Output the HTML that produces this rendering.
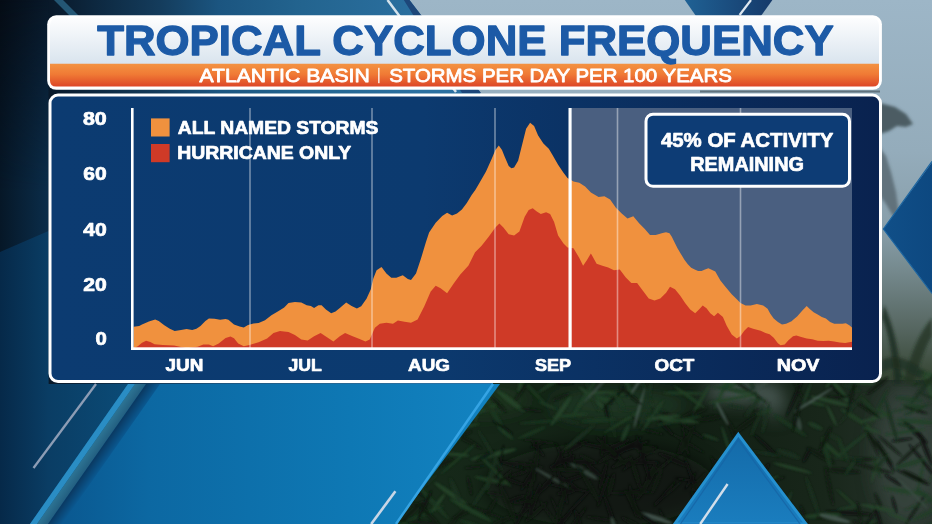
<!DOCTYPE html>
<html><head><meta charset="utf-8"><title>Tropical Cyclone Frequency</title>
<style>
html,body{margin:0;padding:0;width:932px;height:524px;overflow:hidden;background:#0b2238}
svg{display:block;position:absolute;left:0;top:0}
.b{font-family:"Liberation Sans",Arial,sans-serif;font-weight:bold}
.m{font-family:"Liberation Sans",Arial,sans-serif;font-weight:normal}
</style></head><body>
<svg width="932" height="524" viewBox="0 0 932 524">
<defs>
<linearGradient id="gBase" x1="0" y1="0" x2="420" y2="0" gradientUnits="userSpaceOnUse">
<stop offset="0" stop-color="#050c15"/><stop offset="0.12" stop-color="#09192a"/><stop offset="0.25" stop-color="#0e2b44"/><stop offset="0.38" stop-color="#143c5c"/><stop offset="0.52" stop-color="#1b5580"/><stop offset="0.72" stop-color="#23648f"/><stop offset="1" stop-color="#2b70a0"/>
</linearGradient>
<linearGradient id="gLeftH" x1="0" y1="0" x2="48" y2="0" gradientUnits="userSpaceOnUse">
<stop offset="0" stop-color="#061727"/><stop offset="1" stop-color="#0b2d4a"/>
</linearGradient>
<linearGradient id="gMaskV" x1="0" y1="0" x2="0" y2="240" gradientUnits="userSpaceOnUse">
<stop offset="0" stop-color="#000"/><stop offset="0.8" stop-color="#fff"/><stop offset="1" stop-color="#fff"/>
</linearGradient>
<mask id="mLeft" maskUnits="userSpaceOnUse" x="0" y="0" width="60" height="400"><rect x="0" y="0" width="60" height="400" fill="url(#gMaskV)"/></mask>
<linearGradient id="gLeftL" x1="0" y1="0" x2="134" y2="0" gradientUnits="userSpaceOnUse">
<stop offset="0" stop-color="#062949"/><stop offset="0.36" stop-color="#0a3d64"/><stop offset="1" stop-color="#0b4c78"/>
</linearGradient>
<linearGradient id="gSky" x1="0" y1="0" x2="0" y2="524" gradientUnits="userSpaceOnUse">
<stop offset="0" stop-color="#9db6c7"/><stop offset="0.29" stop-color="#94acbb"/><stop offset="0.44" stop-color="#889ea9"/><stop offset="0.52" stop-color="#74888c"/><stop offset="0.63" stop-color="#55655f"/><stop offset="0.73" stop-color="#33432f"/><stop offset="1" stop-color="#182619"/>
</linearGradient>
<linearGradient id="gFol" x1="390" y1="0" x2="932" y2="0" gradientUnits="userSpaceOnUse">
<stop offset="0" stop-color="#172a1a"/><stop offset="0.55" stop-color="#111e13"/><stop offset="0.8" stop-color="#18261a"/><stop offset="1" stop-color="#2a362f"/>
</linearGradient>
<linearGradient id="gTeal" x1="135" y1="384" x2="142.4" y2="389.2" gradientUnits="userSpaceOnUse">
<stop offset="0" stop-color="#2d7494"/><stop offset="1" stop-color="#235f80"/>
</linearGradient>
<linearGradient id="gShadow" x1="146" y1="384" x2="155.4" y2="390.6" gradientUnits="userSpaceOnUse">
<stop offset="0" stop-color="#0a3860"/><stop offset="1" stop-color="#0a5890"/>
</linearGradient>
<linearGradient id="gPanel" x1="60" y1="0" x2="480" y2="0" gradientUnits="userSpaceOnUse">
<stop offset="0" stop-color="#0a5890"/><stop offset="0.21" stop-color="#0c68a2"/><stop offset="0.69" stop-color="#0e78b4"/><stop offset="1" stop-color="#1282c0"/>
</linearGradient>
<linearGradient id="gBL" x1="0" y1="0" x2="130" y2="0" gradientUnits="userSpaceOnUse">
<stop offset="0" stop-color="#06233b"/><stop offset="1" stop-color="#0a3f66"/>
</linearGradient>
<linearGradient id="gTitle" x1="0" y1="15" x2="0" y2="64" gradientUnits="userSpaceOnUse">
<stop offset="0" stop-color="#ffffff"/><stop offset="1" stop-color="#d9e4ee"/>
</linearGradient>
<linearGradient id="gOrange" x1="0" y1="64" x2="0" y2="87" gradientUnits="userSpaceOnUse">
<stop offset="0" stop-color="#f39242"/><stop offset="0.45" stop-color="#f07a35"/><stop offset="1" stop-color="#dc4426"/>
</linearGradient>
<linearGradient id="gChart" x1="50" y1="0" x2="880" y2="0" gradientUnits="userSpaceOnUse">
<stop offset="0" stop-color="#0c3b71"/><stop offset="0.45" stop-color="#0c3a6f"/><stop offset="1" stop-color="#09224f"/>
</linearGradient>
<linearGradient id="gV" x1="685" y1="0" x2="772" y2="0" gradientUnits="userSpaceOnUse">
<stop offset="0" stop-color="#1f6194"/><stop offset="1" stop-color="#163a6a"/>
</linearGradient>
<linearGradient id="gTri" x1="0" y1="434" x2="0" y2="524" gradientUnits="userSpaceOnUse">
<stop offset="0" stop-color="#146aa8"/><stop offset="1" stop-color="#1a7dbe"/>
</linearGradient>
<linearGradient id="gDia" x1="883" y1="0" x2="932" y2="0" gradientUnits="userSpaceOnUse">
<stop offset="0" stop-color="#104f88"/><stop offset="1" stop-color="#0d4880"/>
</linearGradient>
<filter id="fBlur4" x="-50%" y="-50%" width="200%" height="200%"><feGaussianBlur stdDeviation="9"/></filter>
<filter id="fBlur2" x="-50%" y="-50%" width="200%" height="200%"><feGaussianBlur stdDeviation="1.6"/></filter>
<filter id="fBlur1" x="-10%" y="-10%" width="120%" height="120%"><feGaussianBlur stdDeviation="0.9"/></filter>
<clipPath id="cPhoto"><polygon points="409.5,0 932,0 932,524 396,524 493,384 520,300 480,92"/></clipPath>
</defs>

<!-- background base (graphic) -->
<rect x="0" y="0" width="932" height="524" fill="url(#gBase)"/>
<rect x="0" y="0" width="48.5" height="390" fill="url(#gLeftH)" mask="url(#mLeft)"/>
<polygon points="0,252 48.5,231 48.5,384 134,384 36,524 0,524" fill="url(#gLeftL)"/>
<polygon points="54,0 63,0 80,17 71,17" fill="#2f6f92" opacity="0.7"/>
<!-- photo region -->
<g clip-path="url(#cPhoto)">
<rect x="380" y="0" width="560" height="524" fill="url(#gSky)"/>
<rect x="380" y="380" width="560" height="150" fill="url(#gFol)"/>
<g filter="url(#fBlur4)">
<ellipse cx="740" cy="392" rx="38" ry="9" fill="#7a8a8c" opacity="0.65"/>
<ellipse cx="775" cy="402" rx="9" ry="16" fill="#6a7a7a" opacity="0.6"/>
<ellipse cx="905" cy="455" rx="32" ry="70" fill="#3a4640" opacity="0.75"/>
<ellipse cx="600" cy="485" rx="115" ry="42" fill="#0b140c" opacity="0.6"/>
<ellipse cx="470" cy="400" rx="60" ry="14" fill="#24402a" opacity="0.6"/>
<ellipse cx="620" cy="405" rx="70" ry="16" fill="#27452c" opacity="0.6"/>
</g>
<g filter="url(#fBlur1)">
<ellipse cx="638.8" cy="462.2" rx="22.8" ry="1.9" transform="rotate(1 638.8 462.2)" fill="#0b140c" opacity="0.8"/>
<ellipse cx="651.7" cy="470.5" rx="11.0" ry="1.8" transform="rotate(-57 651.7 470.5)" fill="#0c150d" opacity="0.8"/>
<ellipse cx="920.6" cy="476.7" rx="17.8" ry="1.4" transform="rotate(-78 920.6 476.7)" fill="#234226" opacity="0.8"/>
<ellipse cx="873.8" cy="468.3" rx="20.4" ry="1.7" transform="rotate(15 873.8 468.3)" fill="#101c12" opacity="0.8"/>
<ellipse cx="551.8" cy="376.7" rx="9.4" ry="2.1" transform="rotate(-15 551.8 376.7)" fill="#0a130c" opacity="0.8"/>
<ellipse cx="806.9" cy="455.0" rx="8.5" ry="2.0" transform="rotate(-63 806.9 455.0)" fill="#0a130c" opacity="0.8"/>
<ellipse cx="426.8" cy="378.6" rx="19.0" ry="1.5" transform="rotate(68 426.8 378.6)" fill="#28482c" opacity="0.8"/>
<ellipse cx="620.9" cy="463.2" rx="11.2" ry="2.1" transform="rotate(154 620.9 463.2)" fill="#0c150d" opacity="0.8"/>
<ellipse cx="806.9" cy="394.2" rx="11.9" ry="1.3" transform="rotate(110 806.9 394.2)" fill="#1f3d25" opacity="0.8"/>
<ellipse cx="493.6" cy="454.4" rx="23.8" ry="2.3" transform="rotate(167 493.6 454.4)" fill="#28482c" opacity="0.8"/>
<ellipse cx="934.5" cy="376.1" rx="21.8" ry="2.6" transform="rotate(15 934.5 376.1)" fill="#28482c" opacity="0.8"/>
<ellipse cx="937.7" cy="468.7" rx="17.2" ry="1.3" transform="rotate(123 937.7 468.7)" fill="#1f3d25" opacity="0.8"/>
<ellipse cx="570.9" cy="421.6" rx="9.2" ry="1.3" transform="rotate(13 570.9 421.6)" fill="#1a311e" opacity="0.8"/>
<ellipse cx="594.4" cy="445.8" rx="23.3" ry="1.9" transform="rotate(192 594.4 445.8)" fill="#0a120b" opacity="0.8"/>
<ellipse cx="560.9" cy="411.2" rx="17.8" ry="2.2" transform="rotate(-55 560.9 411.2)" fill="#28482c" opacity="0.8"/>
<ellipse cx="875.2" cy="468.9" rx="14.7" ry="1.3" transform="rotate(106 875.2 468.9)" fill="#28482c" opacity="0.8"/>
<ellipse cx="531.3" cy="502.9" rx="17.5" ry="1.6" transform="rotate(-52 531.3 502.9)" fill="#0c150d" opacity="0.8"/>
<ellipse cx="697.7" cy="507.3" rx="17.8" ry="1.6" transform="rotate(67 697.7 507.3)" fill="#0a120b" opacity="0.8"/>
<ellipse cx="538.1" cy="444.6" rx="9.0" ry="1.4" transform="rotate(-21 538.1 444.6)" fill="#0a120b" opacity="0.8"/>
<ellipse cx="880.0" cy="527.0" rx="18.5" ry="2.2" transform="rotate(14 880.0 527.0)" fill="#0d180f" opacity="0.8"/>
<ellipse cx="651.1" cy="431.1" rx="13.0" ry="1.2" transform="rotate(16 651.1 431.1)" fill="#101c12" opacity="0.8"/>
<ellipse cx="561.1" cy="397.0" rx="9.2" ry="1.8" transform="rotate(-21 561.1 397.0)" fill="#101c12" opacity="0.8"/>
<ellipse cx="795.4" cy="395.9" rx="23.4" ry="1.7" transform="rotate(114 795.4 395.9)" fill="#0a130c" opacity="0.8"/>
<ellipse cx="909.3" cy="380.7" rx="16.0" ry="1.2" transform="rotate(206 909.3 380.7)" fill="#1f3d25" opacity="0.8"/>
<ellipse cx="429.7" cy="390.0" rx="9.8" ry="1.6" transform="rotate(167 429.7 390.0)" fill="#1f3d25" opacity="0.8"/>
<ellipse cx="641.8" cy="447.2" rx="16.7" ry="1.9" transform="rotate(182 641.8 447.2)" fill="#0c150d" opacity="0.8"/>
<ellipse cx="402.3" cy="523.4" rx="9.8" ry="2.3" transform="rotate(206 402.3 523.4)" fill="#1d3821" opacity="0.8"/>
<ellipse cx="592.4" cy="398.1" rx="17.8" ry="1.9" transform="rotate(221 592.4 398.1)" fill="#28482c" opacity="0.8"/>
<ellipse cx="664.1" cy="413.2" rx="14.5" ry="1.6" transform="rotate(21 664.1 413.2)" fill="#0a130c" opacity="0.8"/>
<ellipse cx="510.8" cy="517.8" rx="11.4" ry="1.4" transform="rotate(-24 510.8 517.8)" fill="#0c150d" opacity="0.8"/>
<ellipse cx="842.0" cy="393.4" rx="15.5" ry="2.5" transform="rotate(233 842.0 393.4)" fill="#28482c" opacity="0.8"/>
<ellipse cx="759.7" cy="486.3" rx="21.5" ry="2.1" transform="rotate(-29 759.7 486.3)" fill="#1f3d25" opacity="0.8"/>
<ellipse cx="412.8" cy="485.1" rx="17.1" ry="1.6" transform="rotate(47 412.8 485.1)" fill="#0a130c" opacity="0.8"/>
<ellipse cx="640.2" cy="379.8" rx="21.3" ry="1.5" transform="rotate(-57 640.2 379.8)" fill="#4a5c55" opacity="0.8"/>
<ellipse cx="635.6" cy="473.0" rx="18.5" ry="2.3" transform="rotate(73 635.6 473.0)" fill="#0c150d" opacity="0.8"/>
<ellipse cx="530.8" cy="486.0" rx="20.1" ry="1.9" transform="rotate(-74 530.8 486.0)" fill="#0c150d" opacity="0.8"/>
<ellipse cx="686.8" cy="521.8" rx="16.0" ry="2.6" transform="rotate(-55 686.8 521.8)" fill="#0b140c" opacity="0.8"/>
<ellipse cx="603.4" cy="445.4" rx="11.2" ry="2.4" transform="rotate(101 603.4 445.4)" fill="#0b140c" opacity="0.8"/>
<ellipse cx="930.3" cy="391.2" rx="21.9" ry="2.3" transform="rotate(68 930.3 391.2)" fill="#28482c" opacity="0.8"/>
<ellipse cx="929.3" cy="526.5" rx="16.6" ry="2.3" transform="rotate(-29 929.3 526.5)" fill="#1d3821" opacity="0.8"/>
<ellipse cx="410.4" cy="428.7" rx="14.7" ry="1.6" transform="rotate(67 410.4 428.7)" fill="#0d180f" opacity="0.8"/>
<ellipse cx="625.9" cy="381.4" rx="16.5" ry="2.2" transform="rotate(247 625.9 381.4)" fill="#1f3d25" opacity="0.8"/>
<ellipse cx="885.3" cy="455.8" rx="18.8" ry="1.8" transform="rotate(61 885.3 455.8)" fill="#0a130c" opacity="0.8"/>
<ellipse cx="679.7" cy="420.7" rx="19.7" ry="2.1" transform="rotate(184 679.7 420.7)" fill="#28482c" opacity="0.8"/>
<ellipse cx="915.1" cy="510.0" rx="17.8" ry="1.6" transform="rotate(123 915.1 510.0)" fill="#0d180f" opacity="0.8"/>
<ellipse cx="616.1" cy="393.6" rx="8.1" ry="1.7" transform="rotate(6 616.1 393.6)" fill="#28482c" opacity="0.8"/>
<ellipse cx="689.2" cy="528.4" rx="10.0" ry="1.3" transform="rotate(127 689.2 528.4)" fill="#0c150d" opacity="0.8"/>
<ellipse cx="538.1" cy="448.9" rx="10.0" ry="1.8" transform="rotate(231 538.1 448.9)" fill="#0a120b" opacity="0.8"/>
<ellipse cx="495.3" cy="471.2" rx="22.8" ry="1.4" transform="rotate(45 495.3 471.2)" fill="#234226" opacity="0.8"/>
<ellipse cx="515.0" cy="481.8" rx="13.2" ry="1.7" transform="rotate(19 515.0 481.8)" fill="#0b140c" opacity="0.8"/>
<ellipse cx="457.5" cy="454.6" rx="12.0" ry="1.5" transform="rotate(185 457.5 454.6)" fill="#28482c" opacity="0.8"/>
<ellipse cx="843.8" cy="470.8" rx="16.6" ry="2.4" transform="rotate(5 843.8 470.8)" fill="#101c12" opacity="0.8"/>
<ellipse cx="726.4" cy="507.9" rx="11.7" ry="2.2" transform="rotate(50 726.4 507.9)" fill="#1a311e" opacity="0.8"/>
<ellipse cx="879.9" cy="406.0" rx="20.5" ry="1.5" transform="rotate(-65 879.9 406.0)" fill="#1d3821" opacity="0.8"/>
<ellipse cx="532.7" cy="390.9" rx="21.3" ry="1.8" transform="rotate(46 532.7 390.9)" fill="#1d3821" opacity="0.8"/>
<ellipse cx="442.8" cy="463.8" rx="13.7" ry="2.3" transform="rotate(158 442.8 463.8)" fill="#101c12" opacity="0.8"/>
<ellipse cx="848.1" cy="499.6" rx="15.7" ry="1.2" transform="rotate(222 848.1 499.6)" fill="#234226" opacity="0.8"/>
<ellipse cx="453.2" cy="402.6" rx="10.5" ry="1.6" transform="rotate(28 453.2 402.6)" fill="#28482c" opacity="0.8"/>
<ellipse cx="432.7" cy="390.9" rx="14.3" ry="1.8" transform="rotate(-23 432.7 390.9)" fill="#1d3821" opacity="0.8"/>
<ellipse cx="738.7" cy="382.3" rx="11.2" ry="1.8" transform="rotate(158 738.7 382.3)" fill="#234226" opacity="0.8"/>
<ellipse cx="722.7" cy="390.6" rx="20.7" ry="1.7" transform="rotate(114 722.7 390.6)" fill="#234226" opacity="0.8"/>
<ellipse cx="667.4" cy="527.3" rx="20.9" ry="1.6" transform="rotate(66 667.4 527.3)" fill="#0a130c" opacity="0.8"/>
<ellipse cx="463.3" cy="426.8" rx="16.6" ry="1.7" transform="rotate(-11 463.3 426.8)" fill="#234226" opacity="0.8"/>
<ellipse cx="428.8" cy="428.6" rx="15.5" ry="1.2" transform="rotate(-23 428.8 428.6)" fill="#1a311e" opacity="0.8"/>
<ellipse cx="575.8" cy="477.6" rx="17.1" ry="1.9" transform="rotate(162 575.8 477.6)" fill="#0b140c" opacity="0.8"/>
<ellipse cx="455.8" cy="436.9" rx="17.2" ry="1.4" transform="rotate(-63 455.8 436.9)" fill="#28482c" opacity="0.8"/>
<ellipse cx="667.6" cy="493.2" rx="18.4" ry="1.2" transform="rotate(141 667.6 493.2)" fill="#101c12" opacity="0.8"/>
<ellipse cx="687.3" cy="440.0" rx="16.3" ry="2.4" transform="rotate(116 687.3 440.0)" fill="#0d180f" opacity="0.8"/>
<ellipse cx="692.2" cy="478.9" rx="23.3" ry="1.7" transform="rotate(250 692.2 478.9)" fill="#0a120b" opacity="0.8"/>
<ellipse cx="860.6" cy="459.5" rx="17.5" ry="1.8" transform="rotate(179 860.6 459.5)" fill="#101c12" opacity="0.8"/>
<ellipse cx="561.8" cy="457.7" rx="15.7" ry="1.6" transform="rotate(249 561.8 457.7)" fill="#0a120b" opacity="0.8"/>
<ellipse cx="712.2" cy="473.5" rx="14.5" ry="2.2" transform="rotate(108 712.2 473.5)" fill="#0a120b" opacity="0.8"/>
<ellipse cx="710.0" cy="487.4" rx="13.1" ry="2.3" transform="rotate(136 710.0 487.4)" fill="#0a120b" opacity="0.8"/>
<ellipse cx="415.0" cy="391.2" rx="21.0" ry="2.5" transform="rotate(-57 415.0 391.2)" fill="#1d3821" opacity="0.8"/>
<ellipse cx="417.7" cy="440.2" rx="9.9" ry="2.4" transform="rotate(-23 417.7 440.2)" fill="#28482c" opacity="0.8"/>
<ellipse cx="466.9" cy="440.2" rx="17.6" ry="2.1" transform="rotate(209 466.9 440.2)" fill="#101c12" opacity="0.8"/>
<ellipse cx="838.3" cy="397.1" rx="12.6" ry="1.4" transform="rotate(177 838.3 397.1)" fill="#101c12" opacity="0.8"/>
<ellipse cx="855.6" cy="418.3" rx="17.8" ry="2.2" transform="rotate(32 855.6 418.3)" fill="#234226" opacity="0.8"/>
<ellipse cx="494.4" cy="414.3" rx="23.7" ry="2.5" transform="rotate(61 494.4 414.3)" fill="#1d3821" opacity="0.8"/>
<ellipse cx="539.0" cy="441.5" rx="18.0" ry="1.3" transform="rotate(7 539.0 441.5)" fill="#101c12" opacity="0.8"/>
<ellipse cx="478.5" cy="412.2" rx="23.7" ry="1.9" transform="rotate(157 478.5 412.2)" fill="#234226" opacity="0.8"/>
<ellipse cx="851.2" cy="387.4" rx="9.9" ry="2.3" transform="rotate(20 851.2 387.4)" fill="#1a311e" opacity="0.8"/>
<ellipse cx="604.6" cy="399.2" rx="10.5" ry="2.4" transform="rotate(195 604.6 399.2)" fill="#234226" opacity="0.8"/>
<ellipse cx="625.2" cy="432.9" rx="9.6" ry="2.4" transform="rotate(-67 625.2 432.9)" fill="#1f3d25" opacity="0.8"/>
<ellipse cx="656.7" cy="481.5" rx="12.8" ry="2.3" transform="rotate(-68 656.7 481.5)" fill="#101c12" opacity="0.8"/>
<ellipse cx="434.9" cy="422.8" rx="19.6" ry="2.2" transform="rotate(-35 434.9 422.8)" fill="#1a311e" opacity="0.8"/>
<ellipse cx="591.5" cy="394.1" rx="19.3" ry="2.0" transform="rotate(247 591.5 394.1)" fill="#1a311e" opacity="0.8"/>
<ellipse cx="642.1" cy="410.1" rx="23.5" ry="2.2" transform="rotate(3 642.1 410.1)" fill="#1a311e" opacity="0.8"/>
<ellipse cx="403.3" cy="480.3" rx="17.4" ry="2.3" transform="rotate(218 403.3 480.3)" fill="#101c12" opacity="0.8"/>
<ellipse cx="475.1" cy="467.0" rx="10.8" ry="1.3" transform="rotate(173 475.1 467.0)" fill="#0d180f" opacity="0.8"/>
<ellipse cx="673.6" cy="459.8" rx="17.1" ry="2.6" transform="rotate(204 673.6 459.8)" fill="#0b140c" opacity="0.8"/>
<ellipse cx="558.0" cy="460.0" rx="13.4" ry="1.6" transform="rotate(117 558.0 460.0)" fill="#0b140c" opacity="0.8"/>
<ellipse cx="749.4" cy="391.0" rx="21.1" ry="1.8" transform="rotate(214 749.4 391.0)" fill="#101c12" opacity="0.8"/>
<ellipse cx="576.0" cy="446.7" rx="13.6" ry="2.3" transform="rotate(-27 576.0 446.7)" fill="#0b140c" opacity="0.8"/>
<ellipse cx="832.6" cy="387.2" rx="17.9" ry="1.3" transform="rotate(221 832.6 387.2)" fill="#0a130c" opacity="0.8"/>
<ellipse cx="848.6" cy="512.9" rx="23.3" ry="2.1" transform="rotate(4 848.6 512.9)" fill="#0a130c" opacity="0.8"/>
<ellipse cx="898.0" cy="517.0" rx="11.9" ry="1.4" transform="rotate(22 898.0 517.0)" fill="#28482c" opacity="0.8"/>
<ellipse cx="623.7" cy="421.0" rx="23.5" ry="1.3" transform="rotate(-31 623.7 421.0)" fill="#234226" opacity="0.8"/>
<ellipse cx="816.8" cy="403.6" rx="9.0" ry="1.8" transform="rotate(13 816.8 403.6)" fill="#234226" opacity="0.8"/>
<ellipse cx="491.5" cy="409.5" rx="11.8" ry="2.2" transform="rotate(15 491.5 409.5)" fill="#1a311e" opacity="0.8"/>
<ellipse cx="611.4" cy="516.2" rx="23.0" ry="2.1" transform="rotate(251 611.4 516.2)" fill="#0a130c" opacity="0.8"/>
<ellipse cx="878.1" cy="516.8" rx="13.5" ry="2.0" transform="rotate(253 878.1 516.8)" fill="#0a130c" opacity="0.8"/>
<ellipse cx="417.3" cy="521.9" rx="20.8" ry="1.7" transform="rotate(184 417.3 521.9)" fill="#0d180f" opacity="0.8"/>
<ellipse cx="751.7" cy="412.6" rx="8.2" ry="1.9" transform="rotate(-21 751.7 412.6)" fill="#101c12" opacity="0.8"/>
<ellipse cx="871.2" cy="440.0" rx="20.4" ry="1.4" transform="rotate(65 871.2 440.0)" fill="#101c12" opacity="0.8"/>
<ellipse cx="536.6" cy="458.3" rx="10.4" ry="2.3" transform="rotate(-80 536.6 458.3)" fill="#0d180f" opacity="0.8"/>
<ellipse cx="583.5" cy="470.7" rx="16.4" ry="2.4" transform="rotate(31 583.5 470.7)" fill="#3c4e45" opacity="0.8"/>
<ellipse cx="400.5" cy="404.9" rx="11.1" ry="2.2" transform="rotate(225 400.5 404.9)" fill="#1f3d25" opacity="0.8"/>
<ellipse cx="617.2" cy="452.1" rx="23.1" ry="2.5" transform="rotate(151 617.2 452.1)" fill="#0c150d" opacity="0.8"/>
<ellipse cx="938.5" cy="478.7" rx="9.1" ry="1.3" transform="rotate(122 938.5 478.7)" fill="#101c12" opacity="0.8"/>
<ellipse cx="921.8" cy="503.8" rx="18.5" ry="1.2" transform="rotate(160 921.8 503.8)" fill="#1f3d25" opacity="0.8"/>
<ellipse cx="452.3" cy="494.9" rx="21.7" ry="2.4" transform="rotate(35 452.3 494.9)" fill="#28482c" opacity="0.8"/>
<ellipse cx="905.6" cy="491.5" rx="23.3" ry="2.3" transform="rotate(9 905.6 491.5)" fill="#234226" opacity="0.8"/>
<ellipse cx="597.1" cy="392.9" rx="13.0" ry="1.6" transform="rotate(175 597.1 392.9)" fill="#28482c" opacity="0.8"/>
<ellipse cx="440.8" cy="397.7" rx="9.5" ry="2.1" transform="rotate(33 440.8 397.7)" fill="#1d3821" opacity="0.8"/>
<ellipse cx="850.3" cy="467.3" rx="9.4" ry="1.5" transform="rotate(-55 850.3 467.3)" fill="#1d3821" opacity="0.8"/>
<ellipse cx="577.9" cy="502.8" rx="22.8" ry="1.4" transform="rotate(-47 577.9 502.8)" fill="#0a130c" opacity="0.8"/>
<ellipse cx="655.5" cy="517.9" rx="18.0" ry="2.2" transform="rotate(198 655.5 517.9)" fill="#4a5c55" opacity="0.8"/>
<ellipse cx="753.1" cy="469.7" rx="8.3" ry="1.7" transform="rotate(155 753.1 469.7)" fill="#28482c" opacity="0.8"/>
<ellipse cx="502.7" cy="427.2" rx="12.7" ry="1.3" transform="rotate(214 502.7 427.2)" fill="#0a130c" opacity="0.8"/>
<ellipse cx="691.5" cy="430.3" rx="16.0" ry="1.4" transform="rotate(34 691.5 430.3)" fill="#0d180f" opacity="0.8"/>
<ellipse cx="734.9" cy="406.5" rx="9.3" ry="1.5" transform="rotate(192 734.9 406.5)" fill="#1a311e" opacity="0.8"/>
<ellipse cx="536.4" cy="512.0" rx="15.2" ry="2.2" transform="rotate(-42 536.4 512.0)" fill="#0c150d" opacity="0.8"/>
<ellipse cx="482.7" cy="490.8" rx="22.4" ry="1.7" transform="rotate(-57 482.7 490.8)" fill="#1a311e" opacity="0.8"/>
<ellipse cx="522.5" cy="464.3" rx="21.3" ry="1.5" transform="rotate(8 522.5 464.3)" fill="#0c150d" opacity="0.8"/>
<ellipse cx="489.0" cy="528.0" rx="23.0" ry="2.1" transform="rotate(149 489.0 528.0)" fill="#101c12" opacity="0.8"/>
<ellipse cx="832.1" cy="378.5" rx="11.2" ry="1.9" transform="rotate(123 832.1 378.5)" fill="#28482c" opacity="0.8"/>
<ellipse cx="485.5" cy="456.0" rx="12.2" ry="2.0" transform="rotate(-27 485.5 456.0)" fill="#0d180f" opacity="0.8"/>
<ellipse cx="611.7" cy="452.6" rx="9.6" ry="1.7" transform="rotate(243 611.7 452.6)" fill="#0a130c" opacity="0.8"/>
<ellipse cx="879.0" cy="447.4" rx="22.5" ry="2.2" transform="rotate(52 879.0 447.4)" fill="#101c12" opacity="0.8"/>
<ellipse cx="571.7" cy="456.2" rx="14.7" ry="1.2" transform="rotate(245 571.7 456.2)" fill="#0c150d" opacity="0.8"/>
<ellipse cx="792.6" cy="468.0" rx="20.0" ry="1.6" transform="rotate(15 792.6 468.0)" fill="#28482c" opacity="0.8"/>
<ellipse cx="523.3" cy="510.4" rx="23.6" ry="1.9" transform="rotate(-63 523.3 510.4)" fill="#0b140c" opacity="0.8"/>
<ellipse cx="607.5" cy="412.3" rx="9.1" ry="2.5" transform="rotate(255 607.5 412.3)" fill="#0a130c" opacity="0.8"/>
<ellipse cx="700.2" cy="401.3" rx="18.4" ry="1.8" transform="rotate(-60 700.2 401.3)" fill="#234226" opacity="0.8"/>
<ellipse cx="458.1" cy="458.8" rx="23.2" ry="1.2" transform="rotate(139 458.1 458.8)" fill="#234226" opacity="0.8"/>
<ellipse cx="424.4" cy="513.8" rx="21.0" ry="1.8" transform="rotate(-23 424.4 513.8)" fill="#1d3821" opacity="0.8"/>
<ellipse cx="640.2" cy="424.3" rx="13.2" ry="1.4" transform="rotate(224 640.2 424.3)" fill="#0d180f" opacity="0.8"/>
<ellipse cx="552.4" cy="518.1" rx="22.3" ry="1.5" transform="rotate(234 552.4 518.1)" fill="#0d180f" opacity="0.8"/>
<ellipse cx="484.5" cy="511.5" rx="23.9" ry="1.5" transform="rotate(21 484.5 511.5)" fill="#0d180f" opacity="0.8"/>
<ellipse cx="747.6" cy="423.1" rx="21.1" ry="2.5" transform="rotate(144 747.6 423.1)" fill="#0d180f" opacity="0.8"/>
<ellipse cx="574.2" cy="523.4" rx="20.5" ry="1.8" transform="rotate(127 574.2 523.4)" fill="#0b140c" opacity="0.8"/>
<ellipse cx="498.1" cy="403.9" rx="11.8" ry="2.1" transform="rotate(226 498.1 403.9)" fill="#101c12" opacity="0.8"/>
<ellipse cx="876.4" cy="466.8" rx="11.7" ry="1.6" transform="rotate(68 876.4 466.8)" fill="#1d3821" opacity="0.8"/>
<ellipse cx="644.5" cy="387.7" rx="22.7" ry="1.3" transform="rotate(65 644.5 387.7)" fill="#1a311e" opacity="0.8"/>
<ellipse cx="685.5" cy="441.2" rx="17.1" ry="1.4" transform="rotate(78 685.5 441.2)" fill="#0c150d" opacity="0.8"/>
<ellipse cx="793.8" cy="380.4" rx="20.6" ry="1.4" transform="rotate(244 793.8 380.4)" fill="#101c12" opacity="0.8"/>
<ellipse cx="601.6" cy="519.1" rx="16.0" ry="1.5" transform="rotate(189 601.6 519.1)" fill="#0c150d" opacity="0.8"/>
<ellipse cx="820.6" cy="455.6" rx="16.1" ry="2.4" transform="rotate(29 820.6 455.6)" fill="#0d180f" opacity="0.8"/>
<ellipse cx="451.7" cy="443.1" rx="18.7" ry="2.0" transform="rotate(-39 451.7 443.1)" fill="#1f3d25" opacity="0.8"/>
<ellipse cx="511.7" cy="465.3" rx="16.0" ry="1.2" transform="rotate(15 511.7 465.3)" fill="#0a120b" opacity="0.8"/>
<ellipse cx="568.8" cy="469.7" rx="17.7" ry="2.3" transform="rotate(181 568.8 469.7)" fill="#0d180f" opacity="0.8"/>
<ellipse cx="429.9" cy="515.7" rx="17.1" ry="2.0" transform="rotate(47 429.9 515.7)" fill="#0d180f" opacity="0.8"/>
<ellipse cx="561.1" cy="382.5" rx="13.0" ry="2.1" transform="rotate(184 561.1 382.5)" fill="#0a130c" opacity="0.8"/>
<ellipse cx="438.7" cy="502.4" rx="10.7" ry="1.6" transform="rotate(126 438.7 502.4)" fill="#28482c" opacity="0.8"/>
<ellipse cx="646.8" cy="483.6" rx="19.3" ry="2.5" transform="rotate(-59 646.8 483.6)" fill="#0c150d" opacity="0.8"/>
<ellipse cx="676.9" cy="527.8" rx="8.1" ry="1.8" transform="rotate(4 676.9 527.8)" fill="#0c150d" opacity="0.8"/>
<ellipse cx="649.5" cy="520.1" rx="23.5" ry="2.2" transform="rotate(35 649.5 520.1)" fill="#0a120b" opacity="0.8"/>
<ellipse cx="693.5" cy="413.2" rx="15.4" ry="2.5" transform="rotate(158 693.5 413.2)" fill="#101c12" opacity="0.8"/>
<ellipse cx="510.1" cy="400.7" rx="17.4" ry="2.6" transform="rotate(38 510.1 400.7)" fill="#28482c" opacity="0.8"/>
<ellipse cx="904.5" cy="408.9" rx="14.1" ry="1.3" transform="rotate(-13 904.5 408.9)" fill="#1f3d25" opacity="0.8"/>
<ellipse cx="832.3" cy="449.9" rx="14.4" ry="2.0" transform="rotate(222 832.3 449.9)" fill="#234226" opacity="0.8"/>
<ellipse cx="864.5" cy="407.5" rx="14.1" ry="1.3" transform="rotate(211 864.5 407.5)" fill="#101c12" opacity="0.8"/>
<ellipse cx="400.2" cy="404.0" rx="12.2" ry="1.8" transform="rotate(68 400.2 404.0)" fill="#1a311e" opacity="0.8"/>
<ellipse cx="421.5" cy="488.1" rx="20.4" ry="1.4" transform="rotate(-41 421.5 488.1)" fill="#1a311e" opacity="0.8"/>
<ellipse cx="851.4" cy="445.3" rx="21.7" ry="1.7" transform="rotate(-39 851.4 445.3)" fill="#1f3d25" opacity="0.8"/>
<ellipse cx="521.1" cy="382.3" rx="10.4" ry="2.0" transform="rotate(105 521.1 382.3)" fill="#28482c" opacity="0.8"/>
<ellipse cx="689.2" cy="396.9" rx="19.3" ry="1.6" transform="rotate(216 689.2 396.9)" fill="#234226" opacity="0.8"/>
<ellipse cx="849.0" cy="458.4" rx="15.2" ry="1.4" transform="rotate(183 849.0 458.4)" fill="#1a311e" opacity="0.8"/>
<ellipse cx="593.8" cy="470.1" rx="10.2" ry="2.4" transform="rotate(220 593.8 470.1)" fill="#0b140c" opacity="0.8"/>
<ellipse cx="554.0" cy="479.3" rx="22.7" ry="1.5" transform="rotate(30 554.0 479.3)" fill="#3c4e45" opacity="0.8"/>
<ellipse cx="519.0" cy="473.4" rx="9.4" ry="1.8" transform="rotate(-17 519.0 473.4)" fill="#0c150d" opacity="0.8"/>
<ellipse cx="546.5" cy="484.3" rx="11.5" ry="2.5" transform="rotate(-48 546.5 484.3)" fill="#0b140c" opacity="0.8"/>
<ellipse cx="521.9" cy="390.3" rx="13.5" ry="1.8" transform="rotate(124 521.9 390.3)" fill="#101c12" opacity="0.8"/>
<ellipse cx="559.7" cy="516.8" rx="22.4" ry="1.4" transform="rotate(246 559.7 516.8)" fill="#0c150d" opacity="0.8"/>
<ellipse cx="662.6" cy="466.2" rx="15.5" ry="1.7" transform="rotate(-39 662.6 466.2)" fill="#0c150d" opacity="0.8"/>
<ellipse cx="880.5" cy="463.1" rx="12.2" ry="2.1" transform="rotate(130 880.5 463.1)" fill="#1a311e" opacity="0.8"/>
<ellipse cx="915.1" cy="431.8" rx="17.2" ry="2.5" transform="rotate(43 915.1 431.8)" fill="#0a130c" opacity="0.8"/>
<ellipse cx="727.0" cy="385.8" rx="9.1" ry="1.8" transform="rotate(172 727.0 385.8)" fill="#234226" opacity="0.8"/>
<ellipse cx="765.9" cy="418.0" rx="15.9" ry="1.9" transform="rotate(-77 765.9 418.0)" fill="#1a311e" opacity="0.8"/>
<ellipse cx="764.1" cy="412.1" rx="8.0" ry="2.0" transform="rotate(-17 764.1 412.1)" fill="#1f3d25" opacity="0.8"/>
<ellipse cx="433.5" cy="502.8" rx="22.1" ry="2.2" transform="rotate(227 433.5 502.8)" fill="#1d3821" opacity="0.8"/>
<ellipse cx="562.3" cy="486.3" rx="19.1" ry="2.2" transform="rotate(74 562.3 486.3)" fill="#0b140c" opacity="0.8"/>
<ellipse cx="769.1" cy="500.0" rx="12.7" ry="1.8" transform="rotate(159 769.1 500.0)" fill="#234226" opacity="0.8"/>
<ellipse cx="589.2" cy="484.8" rx="22.7" ry="2.2" transform="rotate(60 589.2 484.8)" fill="#101c12" opacity="0.8"/>
<ellipse cx="560.6" cy="506.7" rx="16.2" ry="2.2" transform="rotate(106 560.6 506.7)" fill="#0d180f" opacity="0.8"/>
<ellipse cx="579.6" cy="437.2" rx="19.8" ry="2.2" transform="rotate(140 579.6 437.2)" fill="#1a311e" opacity="0.8"/>
<ellipse cx="491.0" cy="507.8" rx="11.3" ry="2.0" transform="rotate(121 491.0 507.8)" fill="#0d180f" opacity="0.8"/>
<ellipse cx="732.6" cy="504.0" rx="20.8" ry="1.4" transform="rotate(160 732.6 504.0)" fill="#234226" opacity="0.8"/>
<ellipse cx="925.6" cy="448.7" rx="19.1" ry="2.3" transform="rotate(248 925.6 448.7)" fill="#0a130c" opacity="0.8"/>
<ellipse cx="528.6" cy="478.5" rx="14.2" ry="2.2" transform="rotate(-58 528.6 478.5)" fill="#0a120b" opacity="0.8"/>
<ellipse cx="868.9" cy="405.8" rx="13.7" ry="2.0" transform="rotate(228 868.9 405.8)" fill="#1d3821" opacity="0.8"/>
<ellipse cx="848.0" cy="507.8" rx="10.7" ry="1.3" transform="rotate(170 848.0 507.8)" fill="#1f3d25" opacity="0.8"/>
<ellipse cx="614.5" cy="397.9" rx="17.2" ry="2.1" transform="rotate(135 614.5 397.9)" fill="#0d180f" opacity="0.8"/>
<ellipse cx="633.2" cy="504.4" rx="16.9" ry="2.5" transform="rotate(241 633.2 504.4)" fill="#0c150d" opacity="0.8"/>
<ellipse cx="876.4" cy="417.6" rx="17.1" ry="1.6" transform="rotate(164 876.4 417.6)" fill="#28482c" opacity="0.8"/>
<ellipse cx="500.6" cy="460.9" rx="16.9" ry="1.4" transform="rotate(101 500.6 460.9)" fill="#0a120b" opacity="0.8"/>
<ellipse cx="490.4" cy="450.4" rx="24.0" ry="1.5" transform="rotate(239 490.4 450.4)" fill="#1a311e" opacity="0.8"/>
<ellipse cx="833.9" cy="437.0" rx="8.9" ry="2.0" transform="rotate(205 833.9 437.0)" fill="#1a311e" opacity="0.8"/>
<ellipse cx="865.5" cy="529.1" rx="15.1" ry="2.4" transform="rotate(36 865.5 529.1)" fill="#0d180f" opacity="0.8"/>
<ellipse cx="686.5" cy="479.9" rx="12.3" ry="1.2" transform="rotate(9 686.5 479.9)" fill="#0a120b" opacity="0.8"/>
<ellipse cx="877.6" cy="385.8" rx="13.8" ry="2.3" transform="rotate(-38 877.6 385.8)" fill="#101c12" opacity="0.8"/>
<ellipse cx="662.2" cy="423.4" rx="16.5" ry="2.1" transform="rotate(48 662.2 423.4)" fill="#0a130c" opacity="0.8"/>
<ellipse cx="611.2" cy="484.6" rx="12.0" ry="2.5" transform="rotate(-76 611.2 484.6)" fill="#0c150d" opacity="0.8"/>
<ellipse cx="788.4" cy="454.0" rx="12.4" ry="2.6" transform="rotate(200 788.4 454.0)" fill="#1a311e" opacity="0.8"/>
<ellipse cx="426.7" cy="476.6" rx="17.5" ry="1.6" transform="rotate(-46 426.7 476.6)" fill="#234226" opacity="0.8"/>
<ellipse cx="690.4" cy="480.8" rx="10.8" ry="1.3" transform="rotate(123 690.4 480.8)" fill="#0a120b" opacity="0.8"/>
<ellipse cx="395.2" cy="453.4" rx="14.5" ry="1.7" transform="rotate(6 395.2 453.4)" fill="#234226" opacity="0.8"/>
<ellipse cx="566.5" cy="492.1" rx="9.7" ry="2.6" transform="rotate(-11 566.5 492.1)" fill="#0b140c" opacity="0.8"/>
<ellipse cx="878.3" cy="501.1" rx="9.1" ry="1.7" transform="rotate(67 878.3 501.1)" fill="#101c12" opacity="0.8"/>
<ellipse cx="934.2" cy="398.8" rx="18.2" ry="1.7" transform="rotate(23 934.2 398.8)" fill="#1a311e" opacity="0.8"/>
<ellipse cx="878.2" cy="507.9" rx="18.1" ry="1.9" transform="rotate(11 878.2 507.9)" fill="#28482c" opacity="0.8"/>
<ellipse cx="629.9" cy="448.0" rx="21.4" ry="1.9" transform="rotate(-20 629.9 448.0)" fill="#0a120b" opacity="0.8"/>
<ellipse cx="680.5" cy="445.6" rx="12.5" ry="1.3" transform="rotate(109 680.5 445.6)" fill="#0c150d" opacity="0.8"/>
<ellipse cx="570.5" cy="415.4" rx="18.0" ry="1.5" transform="rotate(175 570.5 415.4)" fill="#234226" opacity="0.8"/>
<ellipse cx="804.1" cy="514.2" rx="9.8" ry="1.5" transform="rotate(68 804.1 514.2)" fill="#0d180f" opacity="0.8"/>
<ellipse cx="671.4" cy="529.0" rx="9.0" ry="2.4" transform="rotate(214 671.4 529.0)" fill="#0c150d" opacity="0.8"/>
<ellipse cx="639.7" cy="458.6" rx="21.8" ry="1.5" transform="rotate(-35 639.7 458.6)" fill="#0b140c" opacity="0.8"/>
<ellipse cx="632.3" cy="492.6" rx="22.0" ry="1.3" transform="rotate(-1 632.3 492.6)" fill="#101c12" opacity="0.8"/>
<ellipse cx="925.0" cy="386.1" rx="23.1" ry="2.3" transform="rotate(129 925.0 386.1)" fill="#1a311e" opacity="0.8"/>
<ellipse cx="915.4" cy="409.8" rx="12.6" ry="1.8" transform="rotate(18 915.4 409.8)" fill="#101c12" opacity="0.8"/>
<ellipse cx="646.1" cy="451.3" rx="9.4" ry="2.1" transform="rotate(185 646.1 451.3)" fill="#101c12" opacity="0.8"/>
<ellipse cx="923.6" cy="462.2" rx="23.9" ry="1.7" transform="rotate(231 923.6 462.2)" fill="#0a130c" opacity="0.8"/>
<ellipse cx="752.1" cy="408.1" rx="11.4" ry="2.3" transform="rotate(127 752.1 408.1)" fill="#1a311e" opacity="0.8"/>
<ellipse cx="453.8" cy="520.9" rx="17.8" ry="1.7" transform="rotate(-49 453.8 520.9)" fill="#101c12" opacity="0.8"/>
<ellipse cx="784.7" cy="510.0" rx="20.3" ry="1.5" transform="rotate(111 784.7 510.0)" fill="#1f3d25" opacity="0.8"/>
<ellipse cx="614.9" cy="446.3" rx="16.1" ry="2.5" transform="rotate(155 614.9 446.3)" fill="#0b140c" opacity="0.8"/>
<ellipse cx="454.7" cy="395.0" rx="22.0" ry="2.5" transform="rotate(113 454.7 395.0)" fill="#28482c" opacity="0.8"/>
<ellipse cx="603.2" cy="490.5" rx="17.6" ry="1.8" transform="rotate(110 603.2 490.5)" fill="#0b140c" opacity="0.8"/>
<ellipse cx="632.5" cy="523.0" rx="12.7" ry="2.2" transform="rotate(28 632.5 523.0)" fill="#0c150d" opacity="0.8"/>
<ellipse cx="462.7" cy="513.9" rx="12.0" ry="1.8" transform="rotate(-25 462.7 513.9)" fill="#0d180f" opacity="0.8"/>
<ellipse cx="639.2" cy="408.2" rx="20.6" ry="1.2" transform="rotate(105 639.2 408.2)" fill="#4a5c55" opacity="0.8"/>
<ellipse cx="757.4" cy="400.0" rx="9.2" ry="1.4" transform="rotate(181 757.4 400.0)" fill="#1f3d25" opacity="0.8"/>
<ellipse cx="423.5" cy="410.2" rx="8.3" ry="2.3" transform="rotate(-11 423.5 410.2)" fill="#1d3821" opacity="0.8"/>
<ellipse cx="938.7" cy="386.2" rx="15.4" ry="1.8" transform="rotate(25 938.7 386.2)" fill="#1f3d25" opacity="0.8"/>
<ellipse cx="505.2" cy="433.0" rx="10.3" ry="1.8" transform="rotate(39 505.2 433.0)" fill="#1f3d25" opacity="0.8"/>
<ellipse cx="822.5" cy="515.5" rx="18.6" ry="2.6" transform="rotate(-4 822.5 515.5)" fill="#234226" opacity="0.8"/>
<ellipse cx="398.7" cy="508.4" rx="23.1" ry="2.5" transform="rotate(104 398.7 508.4)" fill="#1f3d25" opacity="0.8"/>
<ellipse cx="683.5" cy="393.1" rx="20.6" ry="1.6" transform="rotate(1 683.5 393.1)" fill="#234226" opacity="0.8"/>
<ellipse cx="461.3" cy="389.6" rx="16.2" ry="1.6" transform="rotate(44 461.3 389.6)" fill="#28482c" opacity="0.8"/>
<ellipse cx="419.9" cy="409.5" rx="15.2" ry="2.0" transform="rotate(-6 419.9 409.5)" fill="#101c12" opacity="0.8"/>
<ellipse cx="475.2" cy="525.4" rx="16.4" ry="1.8" transform="rotate(18 475.2 525.4)" fill="#1d3821" opacity="0.8"/>
<ellipse cx="515.9" cy="498.8" rx="9.8" ry="2.2" transform="rotate(160 515.9 498.8)" fill="#0a120b" opacity="0.8"/>
<ellipse cx="612.7" cy="452.0" rx="22.6" ry="2.0" transform="rotate(42 612.7 452.0)" fill="#0c150d" opacity="0.8"/>
<ellipse cx="433.1" cy="416.2" rx="9.8" ry="2.5" transform="rotate(153 433.1 416.2)" fill="#1f3d25" opacity="0.8"/>
<ellipse cx="910.5" cy="463.5" rx="16.0" ry="2.5" transform="rotate(163 910.5 463.5)" fill="#1f3d25" opacity="0.8"/>
<ellipse cx="532.1" cy="432.7" rx="14.9" ry="1.9" transform="rotate(157 532.1 432.7)" fill="#1d3821" opacity="0.8"/>
<ellipse cx="417.3" cy="504.7" rx="9.0" ry="1.9" transform="rotate(188 417.3 504.7)" fill="#101c12" opacity="0.8"/>
<ellipse cx="444.6" cy="433.3" rx="13.0" ry="1.9" transform="rotate(137 444.6 433.3)" fill="#0a130c" opacity="0.8"/>
<ellipse cx="613.6" cy="524.8" rx="8.1" ry="2.0" transform="rotate(254 613.6 524.8)" fill="#3c4e45" opacity="0.8"/>
<ellipse cx="852.0" cy="408.3" rx="20.2" ry="1.3" transform="rotate(-51 852.0 408.3)" fill="#1a311e" opacity="0.8"/>
<ellipse cx="419.2" cy="390.3" rx="12.0" ry="1.6" transform="rotate(227 419.2 390.3)" fill="#1a311e" opacity="0.8"/>
<ellipse cx="611.3" cy="420.0" rx="18.9" ry="1.3" transform="rotate(257 611.3 420.0)" fill="#1a311e" opacity="0.8"/>
<ellipse cx="472.2" cy="400.0" rx="12.6" ry="1.6" transform="rotate(260 472.2 400.0)" fill="#1f3d25" opacity="0.8"/>
<ellipse cx="436.1" cy="397.3" rx="13.4" ry="2.2" transform="rotate(19 436.1 397.3)" fill="#1d3821" opacity="0.8"/>
<ellipse cx="843.1" cy="449.8" rx="13.4" ry="2.1" transform="rotate(66 843.1 449.8)" fill="#1d3821" opacity="0.8"/>
<ellipse cx="632.3" cy="491.7" rx="14.0" ry="1.8" transform="rotate(-10 632.3 491.7)" fill="#0b140c" opacity="0.8"/>
<ellipse cx="790.2" cy="504.7" rx="23.3" ry="1.7" transform="rotate(53 790.2 504.7)" fill="#0a130c" opacity="0.8"/>
<ellipse cx="560.5" cy="522.9" rx="17.0" ry="2.5" transform="rotate(134 560.5 522.9)" fill="#0a120b" opacity="0.8"/>
<ellipse cx="851.6" cy="395.0" rx="22.0" ry="1.9" transform="rotate(105 851.6 395.0)" fill="#0d180f" opacity="0.8"/>
<ellipse cx="760.9" cy="518.9" rx="15.9" ry="2.2" transform="rotate(162 760.9 518.9)" fill="#234226" opacity="0.8"/>
<ellipse cx="815.1" cy="425.9" rx="8.2" ry="2.4" transform="rotate(204 815.1 425.9)" fill="#1f3d25" opacity="0.8"/>
<ellipse cx="766.1" cy="445.7" rx="17.4" ry="1.8" transform="rotate(43 766.1 445.7)" fill="#0a130c" opacity="0.8"/>
<ellipse cx="570.4" cy="483.4" rx="11.7" ry="1.6" transform="rotate(37 570.4 483.4)" fill="#0a120b" opacity="0.8"/>
<ellipse cx="831.5" cy="415.2" rx="11.9" ry="1.5" transform="rotate(65 831.5 415.2)" fill="#28482c" opacity="0.8"/>
<ellipse cx="890.3" cy="446.2" rx="15.8" ry="1.5" transform="rotate(41 890.3 446.2)" fill="#101c12" opacity="0.8"/>
<ellipse cx="856.1" cy="381.4" rx="19.2" ry="2.0" transform="rotate(188 856.1 381.4)" fill="#28482c" opacity="0.8"/>
<ellipse cx="913.0" cy="493.8" rx="20.9" ry="1.3" transform="rotate(45 913.0 493.8)" fill="#3c4e45" opacity="0.8"/>
<ellipse cx="456.4" cy="493.8" rx="17.3" ry="2.5" transform="rotate(248 456.4 493.8)" fill="#1a311e" opacity="0.8"/>
<ellipse cx="724.5" cy="503.9" rx="23.7" ry="1.4" transform="rotate(-23 724.5 503.9)" fill="#0a130c" opacity="0.8"/>
<ellipse cx="757.3" cy="420.1" rx="17.0" ry="1.6" transform="rotate(-68 757.3 420.1)" fill="#1a311e" opacity="0.8"/>
<ellipse cx="908.9" cy="399.4" rx="14.2" ry="2.4" transform="rotate(7 908.9 399.4)" fill="#1f3d25" opacity="0.8"/>
<ellipse cx="830.1" cy="401.1" rx="20.0" ry="2.2" transform="rotate(194 830.1 401.1)" fill="#28482c" opacity="0.8"/>
<ellipse cx="905.2" cy="431.9" rx="20.6" ry="1.5" transform="rotate(172 905.2 431.9)" fill="#234226" opacity="0.8"/>
<ellipse cx="909.0" cy="453.9" rx="17.1" ry="1.7" transform="rotate(-43 909.0 453.9)" fill="#101c12" opacity="0.8"/>
<ellipse cx="798.5" cy="422.6" rx="8.0" ry="2.5" transform="rotate(74 798.5 422.6)" fill="#3c4e45" opacity="0.8"/>
<ellipse cx="584.5" cy="397.7" rx="23.2" ry="2.1" transform="rotate(123 584.5 397.7)" fill="#1f3d25" opacity="0.8"/>
<ellipse cx="688.3" cy="443.3" rx="18.9" ry="1.3" transform="rotate(211 688.3 443.3)" fill="#101c12" opacity="0.8"/>
<ellipse cx="446.0" cy="397.5" rx="11.1" ry="2.2" transform="rotate(-75 446.0 397.5)" fill="#1a311e" opacity="0.8"/>
<ellipse cx="530.8" cy="409.8" rx="12.4" ry="1.4" transform="rotate(7 530.8 409.8)" fill="#0d180f" opacity="0.8"/>
<ellipse cx="724.9" cy="498.5" rx="23.9" ry="2.0" transform="rotate(244 724.9 498.5)" fill="#0d180f" opacity="0.8"/>
<ellipse cx="813.1" cy="400.2" rx="22.6" ry="1.4" transform="rotate(148 813.1 400.2)" fill="#4a5c55" opacity="0.8"/>
<ellipse cx="617.8" cy="399.0" rx="11.0" ry="2.0" transform="rotate(55 617.8 399.0)" fill="#1d3821" opacity="0.8"/>
<ellipse cx="917.0" cy="409.3" rx="14.3" ry="1.5" transform="rotate(-24 917.0 409.3)" fill="#1d3821" opacity="0.8"/>
<ellipse cx="884.2" cy="413.2" rx="8.8" ry="1.7" transform="rotate(216 884.2 413.2)" fill="#234226" opacity="0.8"/>
<ellipse cx="902.1" cy="439.8" rx="11.2" ry="1.5" transform="rotate(-8 902.1 439.8)" fill="#0a130c" opacity="0.8"/>
<ellipse cx="491.7" cy="480.4" rx="17.8" ry="2.0" transform="rotate(12 491.7 480.4)" fill="#234226" opacity="0.8"/>
<ellipse cx="426.2" cy="454.5" rx="19.8" ry="1.5" transform="rotate(-74 426.2 454.5)" fill="#0d180f" opacity="0.8"/>
<ellipse cx="766.6" cy="453.6" rx="15.1" ry="1.3" transform="rotate(9 766.6 453.6)" fill="#1a311e" opacity="0.8"/>
<ellipse cx="428.4" cy="387.3" rx="21.4" ry="2.6" transform="rotate(-13 428.4 387.3)" fill="#234226" opacity="0.8"/>
<ellipse cx="598.7" cy="420.2" rx="17.5" ry="2.2" transform="rotate(-4 598.7 420.2)" fill="#1d3821" opacity="0.8"/>
<ellipse cx="599.2" cy="386.0" rx="22.6" ry="1.4" transform="rotate(133 599.2 386.0)" fill="#3c4e45" opacity="0.8"/>
<ellipse cx="578.1" cy="519.3" rx="10.3" ry="2.2" transform="rotate(71 578.1 519.3)" fill="#0b140c" opacity="0.8"/>
<ellipse cx="763.0" cy="511.9" rx="19.6" ry="2.5" transform="rotate(173 763.0 511.9)" fill="#0a130c" opacity="0.8"/>
<ellipse cx="470.5" cy="510.1" rx="23.7" ry="2.2" transform="rotate(28 470.5 510.1)" fill="#234226" opacity="0.8"/>
<ellipse cx="710.4" cy="418.2" rx="16.4" ry="2.3" transform="rotate(171 710.4 418.2)" fill="#0d180f" opacity="0.8"/>
<ellipse cx="749.5" cy="378.5" rx="22.7" ry="2.6" transform="rotate(69 749.5 378.5)" fill="#1a311e" opacity="0.8"/>
<ellipse cx="741.0" cy="392.1" rx="15.7" ry="2.5" transform="rotate(196 741.0 392.1)" fill="#28482c" opacity="0.8"/>
<ellipse cx="645.8" cy="405.4" rx="23.1" ry="2.6" transform="rotate(104 645.8 405.4)" fill="#1a311e" opacity="0.8"/>
<ellipse cx="479.6" cy="402.6" rx="19.8" ry="1.5" transform="rotate(-77 479.6 402.6)" fill="#28482c" opacity="0.8"/>
<ellipse cx="726.7" cy="385.7" rx="8.4" ry="1.7" transform="rotate(-53 726.7 385.7)" fill="#1f3d25" opacity="0.8"/>
<ellipse cx="699.1" cy="481.9" rx="12.0" ry="2.2" transform="rotate(-53 699.1 481.9)" fill="#101c12" opacity="0.8"/>
<ellipse cx="726.8" cy="442.2" rx="17.4" ry="1.6" transform="rotate(252 726.8 442.2)" fill="#1f3d25" opacity="0.8"/>
<ellipse cx="859.1" cy="511.8" rx="10.6" ry="1.9" transform="rotate(258 859.1 511.8)" fill="#101c12" opacity="0.8"/>
<ellipse cx="562.4" cy="461.5" rx="14.5" ry="2.2" transform="rotate(-26 562.4 461.5)" fill="#0a120b" opacity="0.8"/>
<ellipse cx="580.9" cy="462.1" rx="16.0" ry="2.5" transform="rotate(182 580.9 462.1)" fill="#0b140c" opacity="0.8"/>
<ellipse cx="663.1" cy="417.4" rx="17.2" ry="2.1" transform="rotate(-6 663.1 417.4)" fill="#28482c" opacity="0.8"/>
<ellipse cx="424.0" cy="398.0" rx="8.4" ry="2.0" transform="rotate(108 424.0 398.0)" fill="#0d180f" opacity="0.8"/>
<ellipse cx="710.8" cy="437.4" rx="8.7" ry="1.5" transform="rotate(21 710.8 437.4)" fill="#1f3d25" opacity="0.8"/>
<ellipse cx="422.0" cy="387.2" rx="21.7" ry="1.4" transform="rotate(151 422.0 387.2)" fill="#101c12" opacity="0.8"/>
<ellipse cx="508.4" cy="504.5" rx="20.9" ry="2.6" transform="rotate(67 508.4 504.5)" fill="#101c12" opacity="0.8"/>
<ellipse cx="540.4" cy="421.8" rx="22.1" ry="1.4" transform="rotate(-4 540.4 421.8)" fill="#1d3821" opacity="0.8"/>
<ellipse cx="915.9" cy="477.3" rx="15.5" ry="2.1" transform="rotate(208 915.9 477.3)" fill="#101c12" opacity="0.8"/>
<ellipse cx="866.0" cy="526.4" rx="10.6" ry="1.6" transform="rotate(146 866.0 526.4)" fill="#234226" opacity="0.8"/>
<ellipse cx="725.7" cy="495.3" rx="12.2" ry="2.2" transform="rotate(24 725.7 495.3)" fill="#28482c" opacity="0.8"/>
<ellipse cx="812.8" cy="496.9" rx="22.0" ry="2.0" transform="rotate(251 812.8 496.9)" fill="#1a311e" opacity="0.8"/>
<ellipse cx="411.5" cy="512.1" rx="16.0" ry="2.6" transform="rotate(-43 411.5 512.1)" fill="#101c12" opacity="0.8"/>
<ellipse cx="627.2" cy="447.9" rx="19.1" ry="1.2" transform="rotate(-37 627.2 447.9)" fill="#0a120b" opacity="0.8"/>
<ellipse cx="891.3" cy="420.7" rx="23.2" ry="2.1" transform="rotate(74 891.3 420.7)" fill="#1a311e" opacity="0.8"/>
<ellipse cx="509.6" cy="528.7" rx="9.1" ry="1.3" transform="rotate(33 509.6 528.7)" fill="#0b140c" opacity="0.8"/>
<ellipse cx="679.4" cy="420.4" rx="22.9" ry="1.7" transform="rotate(169 679.4 420.4)" fill="#1d3821" opacity="0.8"/>
<ellipse cx="917.3" cy="421.5" rx="21.8" ry="2.4" transform="rotate(5 917.3 421.5)" fill="#234226" opacity="0.8"/>
<ellipse cx="824.3" cy="517.1" rx="9.3" ry="1.8" transform="rotate(176 824.3 517.1)" fill="#101c12" opacity="0.8"/>
<ellipse cx="834.8" cy="518.4" rx="16.0" ry="2.5" transform="rotate(194 834.8 518.4)" fill="#4a5c55" opacity="0.8"/>
<ellipse cx="494.2" cy="494.0" rx="8.9" ry="1.4" transform="rotate(188 494.2 494.0)" fill="#101c12" opacity="0.8"/>
<ellipse cx="789.7" cy="425.2" rx="20.3" ry="2.1" transform="rotate(213 789.7 425.2)" fill="#1d3821" opacity="0.8"/>
<ellipse cx="913.5" cy="405.9" rx="12.0" ry="2.5" transform="rotate(8 913.5 405.9)" fill="#1f3d25" opacity="0.8"/>
<ellipse cx="630.7" cy="395.7" rx="14.8" ry="2.0" transform="rotate(219 630.7 395.7)" fill="#0d180f" opacity="0.8"/>
<ellipse cx="764.7" cy="470.8" rx="8.7" ry="2.2" transform="rotate(-59 764.7 470.8)" fill="#0a130c" opacity="0.8"/>
<ellipse cx="399.3" cy="387.2" rx="14.3" ry="1.9" transform="rotate(-63 399.3 387.2)" fill="#0a130c" opacity="0.8"/>
<ellipse cx="932.7" cy="510.6" rx="22.8" ry="2.1" transform="rotate(-26 932.7 510.6)" fill="#1f3d25" opacity="0.8"/>
<ellipse cx="707.3" cy="489.8" rx="21.9" ry="1.5" transform="rotate(-75 707.3 489.8)" fill="#0c150d" opacity="0.8"/>
<ellipse cx="503.9" cy="478.1" rx="11.3" ry="1.8" transform="rotate(-46 503.9 478.1)" fill="#0c150d" opacity="0.8"/>
<ellipse cx="732.1" cy="389.7" rx="19.8" ry="2.1" transform="rotate(188 732.1 389.7)" fill="#1f3d25" opacity="0.8"/>
<ellipse cx="927.0" cy="497.0" rx="14.4" ry="2.1" transform="rotate(219 927.0 497.0)" fill="#1f3d25" opacity="0.8"/>
<ellipse cx="912.4" cy="477.0" rx="18.7" ry="1.8" transform="rotate(25 912.4 477.0)" fill="#0d180f" opacity="0.8"/>
<ellipse cx="686.5" cy="526.9" rx="13.5" ry="2.2" transform="rotate(103 686.5 526.9)" fill="#0c150d" opacity="0.8"/>
<ellipse cx="532.7" cy="470.5" rx="11.5" ry="1.8" transform="rotate(79 532.7 470.5)" fill="#0c150d" opacity="0.8"/>
<ellipse cx="422.9" cy="465.8" rx="21.1" ry="2.4" transform="rotate(163 422.9 465.8)" fill="#101c12" opacity="0.8"/>
<ellipse cx="653.0" cy="415.5" rx="18.9" ry="1.8" transform="rotate(-55 653.0 415.5)" fill="#1f3d25" opacity="0.8"/>
<ellipse cx="568.6" cy="487.9" rx="23.2" ry="1.6" transform="rotate(191 568.6 487.9)" fill="#0b140c" opacity="0.8"/>
<ellipse cx="826.4" cy="452.1" rx="15.8" ry="2.5" transform="rotate(75 826.4 452.1)" fill="#1d3821" opacity="0.8"/>
<ellipse cx="643.2" cy="457.6" rx="23.9" ry="2.0" transform="rotate(253 643.2 457.6)" fill="#0a120b" opacity="0.8"/>
<ellipse cx="431.4" cy="422.3" rx="19.1" ry="2.2" transform="rotate(233 431.4 422.3)" fill="#0d180f" opacity="0.8"/>
<ellipse cx="587.1" cy="458.7" rx="8.4" ry="1.7" transform="rotate(25 587.1 458.7)" fill="#101c12" opacity="0.8"/>
<ellipse cx="869.9" cy="519.8" rx="12.0" ry="1.4" transform="rotate(-61 869.9 519.8)" fill="#0d180f" opacity="0.8"/>
<ellipse cx="796.4" cy="416.7" rx="15.8" ry="2.2" transform="rotate(104 796.4 416.7)" fill="#0d180f" opacity="0.8"/>
<ellipse cx="733.6" cy="431.8" rx="13.1" ry="2.3" transform="rotate(245 733.6 431.8)" fill="#0d180f" opacity="0.8"/>
<ellipse cx="633.0" cy="501.1" rx="17.1" ry="2.1" transform="rotate(78 633.0 501.1)" fill="#0b140c" opacity="0.8"/>
<ellipse cx="730.8" cy="399.1" rx="23.4" ry="1.7" transform="rotate(170 730.8 399.1)" fill="#234226" opacity="0.8"/>
<ellipse cx="893.4" cy="480.3" rx="10.7" ry="1.7" transform="rotate(33 893.4 480.3)" fill="#0a130c" opacity="0.8"/>
<ellipse cx="869.8" cy="410.9" rx="13.8" ry="1.5" transform="rotate(35 869.8 410.9)" fill="#101c12" opacity="0.8"/>
<ellipse cx="424.5" cy="505.5" rx="16.7" ry="2.0" transform="rotate(-65 424.5 505.5)" fill="#0a130c" opacity="0.8"/>
<ellipse cx="720.1" cy="508.8" rx="9.0" ry="1.3" transform="rotate(-77 720.1 508.8)" fill="#0d180f" opacity="0.8"/>
<ellipse cx="756.9" cy="483.1" rx="13.2" ry="1.9" transform="rotate(-34 756.9 483.1)" fill="#1a311e" opacity="0.8"/>
<ellipse cx="391.9" cy="518.3" rx="12.8" ry="1.2" transform="rotate(158 391.9 518.3)" fill="#0a130c" opacity="0.8"/>
<ellipse cx="485.2" cy="401.0" rx="9.5" ry="2.1" transform="rotate(130 485.2 401.0)" fill="#1f3d25" opacity="0.8"/>
<ellipse cx="524.3" cy="501.8" rx="13.8" ry="1.6" transform="rotate(-9 524.3 501.8)" fill="#0c150d" opacity="0.8"/>
<ellipse cx="555.6" cy="380.9" rx="20.7" ry="2.1" transform="rotate(-34 555.6 380.9)" fill="#1f3d25" opacity="0.8"/>
<ellipse cx="766.0" cy="482.5" rx="19.9" ry="1.8" transform="rotate(-16 766.0 482.5)" fill="#101c12" opacity="0.8"/>
<ellipse cx="894.3" cy="504.7" rx="9.2" ry="1.5" transform="rotate(255 894.3 504.7)" fill="#0a130c" opacity="0.8"/>
<ellipse cx="411.4" cy="420.6" rx="13.7" ry="2.5" transform="rotate(5 411.4 420.6)" fill="#234226" opacity="0.8"/>
<ellipse cx="829.2" cy="486.1" rx="20.0" ry="1.8" transform="rotate(258 829.2 486.1)" fill="#101c12" opacity="0.8"/>
<ellipse cx="715.5" cy="465.7" rx="10.8" ry="1.8" transform="rotate(244 715.5 465.7)" fill="#0c150d" opacity="0.8"/>
<ellipse cx="748.8" cy="501.1" rx="23.8" ry="2.5" transform="rotate(18 748.8 501.1)" fill="#234226" opacity="0.8"/>
<ellipse cx="722.2" cy="413.4" rx="13.0" ry="1.4" transform="rotate(63 722.2 413.4)" fill="#4a5c55" opacity="0.8"/>
<ellipse cx="534.2" cy="501.4" rx="19.6" ry="2.3" transform="rotate(-71 534.2 501.4)" fill="#0b140c" opacity="0.8"/>
<ellipse cx="467.3" cy="407.1" rx="8.5" ry="1.4" transform="rotate(176 467.3 407.1)" fill="#101c12" opacity="0.8"/>
<ellipse cx="491.4" cy="473.8" rx="17.8" ry="2.5" transform="rotate(107 491.4 473.8)" fill="#1a311e" opacity="0.8"/>
<ellipse cx="603.2" cy="475.8" rx="14.6" ry="2.1" transform="rotate(106 603.2 475.8)" fill="#0a120b" opacity="0.8"/>
<ellipse cx="761.0" cy="386.1" rx="11.0" ry="1.5" transform="rotate(-34 761.0 386.1)" fill="#3c4e45" opacity="0.8"/>
<ellipse cx="904.3" cy="425.3" rx="8.1" ry="1.8" transform="rotate(14 904.3 425.3)" fill="#1d3821" opacity="0.8"/>
<ellipse cx="454.3" cy="431.4" rx="17.7" ry="2.0" transform="rotate(-18 454.3 431.4)" fill="#1d3821" opacity="0.8"/>
<ellipse cx="664.8" cy="493.9" rx="17.0" ry="1.5" transform="rotate(-50 664.8 493.9)" fill="#0a120b" opacity="0.8"/>
<ellipse cx="461.5" cy="435.1" rx="11.6" ry="1.8" transform="rotate(-20 461.5 435.1)" fill="#101c12" opacity="0.8"/>
<ellipse cx="871.4" cy="430.0" rx="9.1" ry="1.6" transform="rotate(18 871.4 430.0)" fill="#28482c" opacity="0.8"/>
<ellipse cx="469.7" cy="485.8" rx="10.2" ry="1.7" transform="rotate(78 469.7 485.8)" fill="#0d180f" opacity="0.8"/>
<ellipse cx="547.7" cy="405.4" rx="9.8" ry="1.5" transform="rotate(22 547.7 405.4)" fill="#1f3d25" opacity="0.8"/>
<ellipse cx="825.4" cy="439.1" rx="14.1" ry="2.2" transform="rotate(-65 825.4 439.1)" fill="#0d180f" opacity="0.8"/>
<ellipse cx="933.2" cy="380.3" rx="20.9" ry="2.5" transform="rotate(168 933.2 380.3)" fill="#1a311e" opacity="0.8"/>
</g>
<g filter="url(#fBlur2)">
<polygon points="880,103 895,107 906,114 913,124 906,127 897,126 889,131 880,134" fill="#44535a" opacity="0.9"/>
<polygon points="880,148 886,156 891,172 896,192 899,214 893,216 886,204 880,196" fill="#56666e" opacity="0.8"/>
<path d="M884 305 Q898 335 902 384 L894 384 Q892 340 882 318 Z" fill="#1c2b1f" opacity="0.8"/>
<path d="M932 318 Q914 338 903 384 L914 384 Q922 352 932 336 Z" fill="#1f3124" opacity="0.75"/>
<path d="M882 360 Q900 350 925 372 L920 380 Q900 362 882 372 Z" fill="#1d2e21" opacity="0.7"/>
</g>
</g>
<!-- dark band + white streak at top -->
<polygon points="403.8,0 409.5,0 481,93 462,93" fill="#1d477a"/>
<line x1="387.5" y1="0" x2="456" y2="92" stroke="#e8f0f5" stroke-width="2.5" opacity="0.9"/>
<line x1="700" y1="91.5" x2="880" y2="91.5" stroke="#3d4a50" stroke-width="2" opacity="0.6"/>
<!-- V at top -->
<polygon points="684.8,0 772.4,0 728,62" fill="url(#gV)"/>
<line x1="751" y1="0" x2="739.6" y2="15" stroke="#dfe8f0" stroke-width="2.2"/>
<!-- diamond right -->
<polygon points="883.4,229 960,124 960,330" fill="url(#gDia)"/>
<polyline points="932,161.4 883.4,229 932,293.5" fill="none" stroke="#1c65a0" stroke-width="1.2"/>
<!-- bottom panel -->
<polygon points="128,384 500,384 396,524 30,524" fill="url(#gPanel)"/>
<polygon points="128,384 135,384 37,524 30,524" fill="#2a8dc4"/>
<polygon points="135,384 146,384 48,524 37,524" fill="url(#gTeal)"/>
<polygon points="146,384 160,384 62,524 48,524" fill="url(#gShadow)"/>
<line x1="493" y1="384" x2="396" y2="524" stroke="#35a4e4" stroke-width="2.5"/>
<line x1="96" y1="384" x2="33.5" y2="468" stroke="#8d9db5" stroke-width="2.3"/>
<line x1="395.4" y1="491.3" x2="371.2" y2="524" stroke="#c8d6e6" stroke-width="2.6"/>
<!-- triangle -->
<polygon points="738.3,434.4 806,524 674.7,524" fill="url(#gTri)"/>
<polygon points="738.3,434.4 806,524 674.7,524" fill="none" stroke="#2590cf" stroke-width="3"/>
<polygon points="738.3,440 800,524 680.5,524" fill="none" stroke="#1764a5" stroke-width="1.2" opacity="0.8"/>
<line x1="727.6" y1="484" x2="700.2" y2="524" stroke="#d2deea" stroke-width="2.4"/>

<!-- title box -->
<rect x="47.2" y="15.3" width="834.7" height="74.5" rx="9" fill="#ffffff"/>
<rect x="50" y="18" width="829" height="56" rx="7" fill="url(#gTitle)"/>
<path d="M50 63.8 H879 V80.4 Q879 86.4 873 86.4 H56 Q50 86.4 50 80.4 Z" fill="url(#gOrange)"/>

<!-- chart box -->
<rect x="50" y="95.1" width="830.5" height="286.4" rx="8" fill="url(#gChart)" stroke="#ffffff" stroke-width="3"/>
<rect x="572" y="108" width="280" height="240" fill="#4a5f80"/>
<path d="M133.6 348.5 L133.6 326.7 L139.2 326.0 L142.0 324.4 L148.9 321.6 L155.2 319.5 L158.7 321.1 L164.3 325.3 L169.8 328.8 L174.7 330.9 L181.0 329.9 L186.6 329.1 L192.2 329.9 L196.4 328.8 L200.5 326.0 L205.4 321.1 L208.9 318.4 L214.5 318.8 L220.1 319.8 L225.6 319.1 L228.4 319.8 L234.0 324.6 L239.6 326.5 L243.8 327.4 L248.0 324.9 L253.5 323.5 L258.6 323.0 L265.0 320.2 L271.4 315.3 L277.8 311.6 L284.2 307.4 L288.5 303.1 L294.9 302.0 L301.3 302.6 L306.7 305.2 L310.9 305.9 L314.1 308.0 L318.4 305.2 L321.6 305.2 L325.9 309.5 L331.2 313.3 L335.5 311.6 L339.8 308.0 L346.2 302.4 L351.6 305.9 L356.9 308.4 L361.2 306.3 L366.5 298.8 L370.8 289.2 L373.3 278.5 L376.6 270.3 L381.5 267.0 L386.4 273.6 L391.3 277.8 L396.3 277.8 L402.8 275.2 L407.8 279.1 L411.0 280.1 L416.0 273.6 L420.9 258.8 L425.8 242.4 L429.1 232.5 L435.7 222.7 L442.2 216.1 L447.1 212.8 L452.1 215.5 L457.0 213.5 L461.9 209.5 L466.8 203.0 L471.8 194.8 L475.3 190.1 L480.7 180.8 L486.0 171.4 L491.4 159.4 L495.4 150.1 L498.8 145.5 L502.0 150.1 L504.7 156.7 L508.7 166.1 L511.4 168.2 L514.1 167.4 L518.1 160.7 L522.1 144.7 L526.1 128.7 L530.1 122.8 L534.1 126.0 L538.1 135.4 L543.4 143.4 L548.8 148.7 L552.8 155.4 L558.1 164.7 L563.5 172.8 L567.5 178.1 L573.5 181.6 L579.3 182.8 L585.1 186.6 L590.9 192.4 L598.6 197.0 L604.4 196.3 L610.1 199.4 L615.9 207.8 L621.7 213.6 L627.5 218.6 L633.3 216.3 L639.1 223.3 L644.8 229.1 L650.0 235.0 L655.7 235.0 L659.2 233.9 L662.6 233.1 L666.0 232.2 L669.5 233.3 L671.8 236.8 L674.0 241.3 L677.5 248.2 L680.9 253.9 L684.4 259.7 L687.8 264.2 L691.2 267.7 L694.7 269.4 L698.1 271.1 L701.5 271.1 L705.0 269.4 L708.4 268.2 L715.3 271.6 L720.4 280.5 L725.4 286.8 L731.7 294.3 L736.8 299.3 L740.5 303.1 L745.6 305.6 L750.6 305.6 L756.9 303.9 L763.2 305.6 L767.6 308.8 L770.3 313.7 L773.7 318.5 L777.9 321.9 L782.0 324.6 L786.1 323.7 L791.6 321.2 L797.1 316.4 L802.6 310.2 L806.7 306.1 L809.5 308.8 L813.6 312.3 L817.7 314.6 L821.8 317.1 L825.9 318.5 L830.1 321.9 L834.2 323.7 L838.3 323.7 L842.4 323.7 L845.9 323.3 L849.3 325.3 L852.0 327.4 L852.0 348.5 Z" fill="#f0913e"/>
<path d="M133.6 348.5 L133.6 348.3 L137.8 346.3 L142.0 342.8 L146.1 340.7 L150.3 342.1 L154.5 344.2 L162.9 344.9 L174.0 345.6 L181.0 347.0 L186.6 348.3 L197.7 346.7 L203.3 344.4 L208.9 344.4 L213.1 346.3 L218.7 343.5 L225.6 337.9 L230.5 336.5 L234.0 338.3 L238.2 343.5 L243.8 346.3 L249.4 344.9 L258.6 342.2 L267.1 338.4 L273.5 333.0 L280.0 330.9 L288.5 332.0 L294.9 335.1 L301.3 339.4 L307.7 340.5 L314.1 336.2 L320.6 333.0 L327.0 337.3 L333.4 341.6 L339.8 336.2 L345.1 333.0 L352.6 336.2 L359.0 338.8 L365.5 341.6 L369.7 339.4 L374.9 327.7 L379.8 323.8 L386.4 322.8 L393.0 323.8 L397.9 320.5 L404.5 321.8 L411.0 322.8 L417.6 319.5 L424.2 306.4 L430.7 291.6 L435.7 285.7 L440.6 288.3 L447.1 293.3 L453.7 283.4 L460.3 274.5 L468.5 265.4 L475.1 252.2 L481.6 245.7 L488.7 236.8 L495.4 227.5 L499.4 223.5 L503.4 227.5 L508.7 234.2 L514.1 235.5 L519.4 231.5 L524.7 216.8 L528.7 210.1 L532.7 208.3 L536.8 211.5 L540.8 214.1 L546.1 212.3 L550.1 214.1 L554.1 222.1 L558.1 235.5 L563.5 243.5 L567.5 247.5 L573.5 248.3 L579.3 258.0 L583.1 265.7 L587.0 259.9 L590.9 253.4 L596.6 263.8 L602.4 265.7 L608.2 267.6 L614.0 270.3 L619.8 269.6 L625.6 277.3 L631.3 283.0 L637.1 283.0 L642.9 290.8 L648.7 298.5 L654.5 300.4 L660.3 298.5 L666.1 292.7 L670.0 286.8 L675.0 289.3 L680.1 295.6 L685.1 303.1 L690.2 309.4 L695.2 313.2 L699.0 309.4 L702.7 305.6 L706.5 308.2 L710.3 313.2 L714.1 316.2 L717.9 312.7 L722.9 317.0 L726.7 325.8 L731.7 334.6 L736.8 338.4 L740.5 335.9 L744.3 330.8 L748.1 327.1 L753.1 328.8 L760.7 330.8 L765.5 332.9 L769.6 334.3 L773.7 337.7 L777.9 343.2 L780.6 345.2 L784.7 344.6 L788.2 340.4 L793.0 336.3 L796.4 335.6 L801.2 337.0 L806.7 338.4 L812.2 339.3 L817.7 340.7 L823.2 341.1 L828.7 340.7 L834.2 341.5 L839.7 342.5 L845.2 342.9 L852.0 341.8 L852.0 348.5 Z" fill="#cf3a27"/>
<g stroke="#ffffff" stroke-opacity="0.42" stroke-width="1.6">
<line x1="250" y1="108" x2="250" y2="348"/>
<line x1="372" y1="108" x2="372" y2="348"/>
<line x1="495" y1="108" x2="495" y2="348"/>
<line x1="617.5" y1="108" x2="617.5" y2="348"/>
<line x1="740.5" y1="108" x2="740.5" y2="348"/>
</g>
<rect x="568.5" y="108" width="3.2" height="241" fill="#ffffff"/>
<rect x="131" y="108" width="2.6" height="242" fill="#ffffff"/>
<rect x="131" y="347.3" width="721" height="2.7" fill="#ffffff"/>

<!-- legend -->
<rect x="151" y="118.4" width="18.6" height="18.1" fill="#f0913e"/>
<rect x="151" y="144" width="18.6" height="18.2" fill="#cf3a27"/>

<!-- callout -->
<rect x="646" y="114.2" width="203.5" height="72.1" rx="7" fill="#0d3c75" stroke="#ffffff" stroke-width="3"/>

<text class="b" x="97.15" y="54.95" font-size="43.31" fill="#1c5aa6" stroke="#1c5aa6" stroke-width="1.3" stroke-linejoin="round" textLength="736.5" lengthAdjust="spacingAndGlyphs">TROPICAL CYCLONE FREQUENCY</text>
<text class="m" x="199.4" y="82.4" font-size="19.19" fill="#ffffff" stroke="#ffffff" stroke-width="0.8" stroke-linejoin="round" textLength="170.4" lengthAdjust="spacingAndGlyphs">ATLANTIC BASIN</text>
<rect x="378.2" y="67.8" width="1.3" height="15.4" fill="#ffffff"/>
<text class="m" x="389.2" y="82.4" font-size="19.19" fill="#ffffff" stroke="#ffffff" stroke-width="0.8" stroke-linejoin="round" textLength="342.6" lengthAdjust="spacingAndGlyphs">STORMS PER DAY PER 100 YEARS</text>
<text class="b" x="177.75" y="133.95" font-size="17.73" fill="#ffffff" stroke="#ffffff" stroke-width="0.7" stroke-linejoin="round" textLength="200.7" lengthAdjust="spacingAndGlyphs">ALL NAMED STORMS</text>
<text class="b" x="177.35" y="159.05" font-size="17.73" fill="#ffffff" stroke="#ffffff" stroke-width="0.7" stroke-linejoin="round" textLength="173.8" lengthAdjust="spacingAndGlyphs">HURRICANE ONLY</text>
<text class="b" x="82.95" y="125.25" font-size="17.43" fill="#ffffff" stroke="#ffffff" stroke-width="0.7" stroke-linejoin="round" textLength="23.8" lengthAdjust="spacingAndGlyphs">80</text>
<text class="b" x="83.35" y="180.25" font-size="18.0" fill="#ffffff" stroke="#ffffff" stroke-width="0.7" stroke-linejoin="round" textLength="23.4" lengthAdjust="spacingAndGlyphs">60</text>
<text class="b" x="83.25" y="235.95" font-size="17.71" fill="#ffffff" stroke="#ffffff" stroke-width="0.7" stroke-linejoin="round" textLength="23.5" lengthAdjust="spacingAndGlyphs">40</text>
<text class="b" x="83.25" y="291.05" font-size="17.57" fill="#ffffff" stroke="#ffffff" stroke-width="0.7" stroke-linejoin="round" textLength="23.5" lengthAdjust="spacingAndGlyphs">20</text>
<text class="b" x="95.45" y="345.45" font-size="17.43" fill="#ffffff" stroke="#ffffff" stroke-width="0.7" stroke-linejoin="round" textLength="11.3" lengthAdjust="spacingAndGlyphs">0</text>
<text class="b" x="165.55" y="370.75" font-size="17.3" fill="#ffffff" stroke="#ffffff" stroke-width="0.7" stroke-linejoin="round" textLength="37.8" lengthAdjust="spacingAndGlyphs">JUN</text>
<text class="b" x="288.55" y="370.75" font-size="17.3" fill="#ffffff" stroke="#ffffff" stroke-width="0.7" stroke-linejoin="round" textLength="33.3" lengthAdjust="spacingAndGlyphs">JUL</text>
<text class="b" x="408.05" y="370.75" font-size="17.3" fill="#ffffff" stroke="#ffffff" stroke-width="0.7" stroke-linejoin="round" textLength="41.9" lengthAdjust="spacingAndGlyphs">AUG</text>
<text class="b" x="534.95" y="370.75" font-size="17.3" fill="#ffffff" stroke="#ffffff" stroke-width="0.7" stroke-linejoin="round" textLength="36.1" lengthAdjust="spacingAndGlyphs">SEP</text>
<text class="b" x="654.55" y="370.75" font-size="17.3" fill="#ffffff" stroke="#ffffff" stroke-width="0.7" stroke-linejoin="round" textLength="39.8" lengthAdjust="spacingAndGlyphs">OCT</text>
<text class="b" x="776.75" y="370.75" font-size="17.3" fill="#ffffff" stroke="#ffffff" stroke-width="0.7" stroke-linejoin="round" textLength="42.8" lengthAdjust="spacingAndGlyphs">NOV</text>
<text class="b" x="660.95" y="147.05" font-size="20.2" fill="#ffffff" stroke="#ffffff" stroke-width="0.7" stroke-linejoin="round" textLength="172.5" lengthAdjust="spacingAndGlyphs">45% OF ACTIVITY</text>
<text class="b" x="690.25" y="170.75" font-size="20.2" fill="#ffffff" stroke="#ffffff" stroke-width="0.7" stroke-linejoin="round" textLength="113.7" lengthAdjust="spacingAndGlyphs">REMAINING</text>
</svg>
</body></html>
